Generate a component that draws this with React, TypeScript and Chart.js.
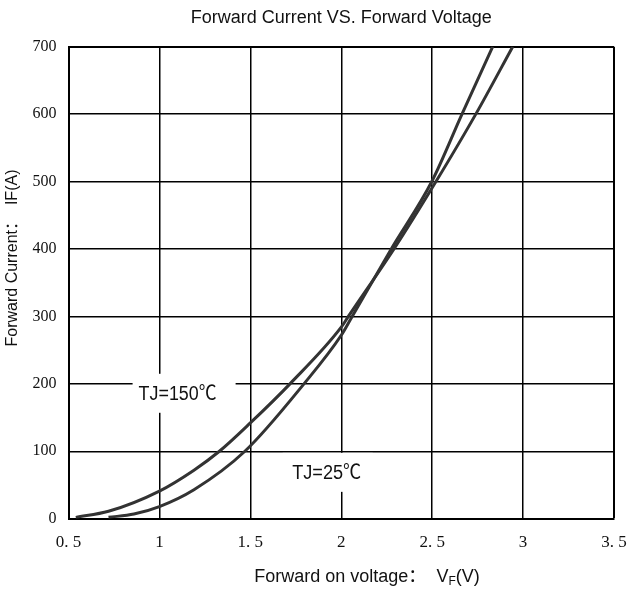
import React, { useEffect, useRef } from "react";
import { Chart, registerables } from "chart.js";

Chart.register(...registerables);

// TJ = 25 ℃ curve
const voltage25 = [0.72, 0.86, 1.0, 1.19, 1.47, 1.795, 2.0, 2.06, 2.275, 2.498, 2.664, 2.833];
const current25 = [2, 7, 18, 43, 100, 200, 272, 300, 400, 500, 600, 700];

// TJ = 150 ℃ curve
const voltage150 = [0.54, 0.72, 1.0, 1.19, 1.33, 1.5, 1.718, 2.0, 2.039, 2.29, 2.521, 2.74, 2.943];
const current150 = [2, 11, 41, 72, 100, 142, 200, 284, 300, 400, 500, 600, 700];

const xTickLabels = ["0. 5", "1", "1. 5", "2", "2. 5", "3", "3. 5"];
const yTickLabels = ["0", "100", "200", "300", "400", "500", "600", "700"];

const chartTitle = "Forward Current VS. Forward Voltage";
const yTitle = "Forward Current：  IF(A)";
const xTitleMain = "Forward on voltage：  V";
const xTitleSub = "F";
const xTitleEnd = "(V)";

const curveLabels = ["TJ=150℃", "TJ=25℃"];
const curveLabelV = [1.1, 1.92];
const curveLabelI = [186, 68];

const SANS = '"Liberation Sans", "Noto Sans CJK SC", Arial, sans-serif';
const SERIF = '"Liberation Serif", "Times New Roman", serif';

export default function App() {
  const canvasRef = useRef<HTMLCanvasElement | null>(null);

  useEffect(() => {
    const canvas = canvasRef.current;
    if (!canvas) return;

    const labelBoxes = [
      { w: 78, l: 45, r: 58, t: 19.5, b: 19.5 },
      { w: 69, l: 44, r: 46, t: 20, b: 19 },
    ];

    const annotationPlugin = {
      id: "curveAnnotations",
      beforeDatasetsDraw(chart: any) {
        const ctx = chart.ctx;
        const xs = chart.scales.x;
        const ys = chart.scales.y;
        ctx.save();
        curveLabels.forEach((txt, i) => {
          const cx = xs.getPixelForValue(curveLabelV[i]);
          const cy = ys.getPixelForValue(curveLabelI[i]);
          const bx = labelBoxes[i];
          ctx.fillStyle = "#ffffff";
          ctx.fillRect(cx - bx.l, cy - bx.t, bx.l + bx.r, bx.t + bx.b);
          ctx.fillStyle = "#111111";
          ctx.font = "20px " + SANS;
          ctx.textAlign = "center";
          ctx.textBaseline = "middle";
          ctx.fillText(txt, cx, cy + 1, bx.w);
        });
        ctx.restore();
      },
      afterDraw(chart: any) {
        const ctx = chart.ctx;
        ctx.save();
        ctx.fillStyle = "#111111";
        // y axis title
        ctx.save();
        ctx.translate(13, 258);
        ctx.rotate(-Math.PI / 2);
        ctx.font = "16px " + SANS;
        ctx.textAlign = "center";
        ctx.textBaseline = "middle";
        ctx.fillText(yTitle, 0, 0);
        ctx.restore();
        // x axis title with subscript
        const mainFont = "18px " + SANS;
        const subFont = "12px " + SANS;
        ctx.font = mainFont;
        const w1 = ctx.measureText(xTitleMain).width;
        const w3 = ctx.measureText(xTitleEnd).width;
        ctx.font = subFont;
        const w2 = ctx.measureText(xTitleSub).width;
        const total = w1 + w2 + w3;
        let x = 367 - total / 2;
        const y = 582;
        ctx.textAlign = "left";
        ctx.textBaseline = "alphabetic";
        ctx.font = mainFont;
        ctx.fillText(xTitleMain, x, y);
        x += w1;
        ctx.font = subFont;
        ctx.fillText(xTitleSub, x, y + 3);
        x += w2;
        ctx.font = mainFont;
        ctx.fillText(xTitleEnd, x, y);
        ctx.restore();
      },
    };

    const chart = new Chart(canvas, {
      type: "line",
      data: {
        datasets: [
          {
            label: curveLabels[0],
            data: voltage150.map((v, i) => ({ x: v, y: current150[i] })),
            borderColor: "#333333",
            borderWidth: 3,
            pointRadius: 0,
            fill: false,
            cubicInterpolationMode: "monotone",
          },
          {
            label: curveLabels[1],
            data: voltage25.map((v, i) => ({ x: v, y: current25[i] })),
            borderColor: "#333333",
            borderWidth: 3,
            pointRadius: 0,
            fill: false,
            cubicInterpolationMode: "monotone",
          },
        ],
      },
      options: {
        responsive: false,
        animation: false,
        devicePixelRatio: 1,
        layout: { padding: { left: 0, right: 17, top: 0, bottom: 0 } },
        plugins: {
          legend: { display: false },
          tooltip: { enabled: false },
          title: {
            display: true,
            text: chartTitle,
            fullSize: false,
            color: "#111111",
            font: { family: SANS, size: 18, weight: "normal", lineHeight: 1.2 },
            padding: { top: 7.2, bottom: 17.9 },
          },
        },
        scales: {
          x: {
            type: "linear",
            min: 0.5,
            max: 3.5,
            afterFit: (scale: any) => {
              scale.height = 72.3;
              scale.paddingRight = 0;
              scale.paddingLeft = 0;
            },
            ticks: {
              stepSize: 0.5,
              padding: 14,
              color: "#111111",
              font: { family: SERIF, size: 17 },
              maxRotation: 0,
              callback: (_v: any, index: number) => xTickLabels[index],
            },
            grid: {
              color: "#000000",
              lineWidth: (c: any) => (c.tick && c.tick.value === 3.5 ? 2 : 1.5),
              drawTicks: false,
            },
            border: { display: true, color: "#000000", width: 2 },
          },
          y: {
            type: "linear",
            min: 0,
            max: 700,
            afterFit: (scale: any) => {
              scale.width = 68.5;
              scale.paddingTop = 0;
              scale.paddingBottom = 0;
            },
            ticks: {
              stepSize: 100,
              padding: 12,
              color: "#111111",
              font: { family: SERIF, size: 16 },
              callback: (_v: any, index: number) => yTickLabels[index],
            },
            grid: {
              color: "#000000",
              lineWidth: (c: any) => (c.tick && c.tick.value === 700 ? 2 : 1.5),
              drawTicks: false,
            },
            border: { display: true, color: "#000000", width: 2 },
          },
        },
      },
      plugins: [annotationPlugin],
    } as any);

    return () => {
      chart.destroy();
    };
  }, []);

  return (
    <div style={{ position: "absolute", left: 0, top: 0, width: 631, height: 591, background: "#ffffff" }}>
      <canvas ref={canvasRef} width={631} height={591} style={{ display: "block" }} />
    </div>
  );
}
